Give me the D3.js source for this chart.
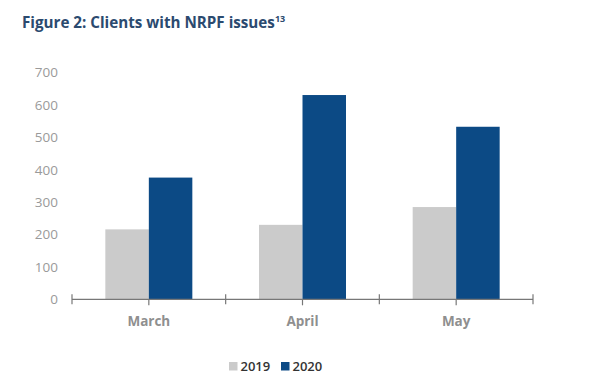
<!DOCTYPE html>
<html><head><meta charset="utf-8">
<script src="https://cdn.jsdelivr.net/npm/d3@7"></script>
<style>body{margin:0;background:#fff;}svg{display:block;font-family:"Open Sans",sans-serif;}</style>
</head><body>
<svg id="c" width="600" height="388"></svg>
<script>
const categories = ["March", "April", "May"];
const seriesNames = ["2019", "2020"];
const values2019 = [216, 230, 285];
const values2020 = [376, 631, 533];
const yTicks = [0, 100, 200, 300, 400, 500, 600, 700];
const colors = ["#cbcbcb", "#0c4a85"];

const svg = d3.select("#c");
const x0 = 72, x1 = 533, yTop = 72.7, yBase = 299.3;

const x = d3.scaleBand().domain(categories).range([x0, x1]).paddingInner(0).paddingOuter(0);
const y = d3.scaleLinear().domain([0, 700]).range([yBase, yTop]);
const bw = 43.5;
const xs = d3.scaleBand().domain(seriesNames).range([-bw, bw]).padding(0);

svg.append("text").attr("x", 22).attr("y", 28)
  .attr("fill", "#2b4a6f").attr("font-size", 15.2).attr("font-weight", 700)
  .text("Figure 2: Clients with NRPF issues")
  .append("tspan").attr("font-size", 9).attr("dy", -6).text("13");

// y labels
svg.append("g").selectAll("text").data(yTicks).join("text")
  .attr("x", 58).attr("y", d => y(d)).attr("dy", "0.35em")
  .attr("text-anchor", "end").attr("fill", "#9a9a9a").attr("font-size", 13.5)
  .text(d => d);

const data = categories.map((c, i) => ({c, vals: [values2019[i], values2020[i]]}));
const g = svg.append("g");
data.forEach(d => {
  const cx = x(d.c) + x.bandwidth() / 2;
  seriesNames.forEach((s, j) => {
    g.append("rect").attr("x", cx + xs(s)).attr("width", xs.bandwidth())
      .attr("y", y(d.vals[j])).attr("height", y(0) - y(d.vals[j]))
      .attr("fill", colors[j]);
  });
});

// x axis
const ax = svg.append("g").attr("stroke", "#777").attr("stroke-width", 1.2);
ax.append("line").attr("x1", x0).attr("x2", x1).attr("y1", yBase).attr("y2", yBase);
const bounds = categories.map(c => x(c)).concat([x1]);
ax.selectAll(".b").data(bounds).join("line").attr("class", "b")
  .attr("x1", d => d).attr("x2", d => d).attr("y1", yBase - 5).attr("y2", yBase + 5);
ax.selectAll(".m").data(categories).join("line").attr("class", "m")
  .attr("x1", d => x(d) + x.bandwidth() / 2).attr("x2", d => x(d) + x.bandwidth() / 2)
  .attr("y1", yBase).attr("y2", yBase + 6);

svg.append("g").selectAll("text").data(categories).join("text")
  .attr("x", d => x(d) + x.bandwidth() / 2).attr("y", 321).attr("dy", "0.35em")
  .attr("text-anchor", "middle").attr("fill", "#8f8f8f").attr("font-size", 13.5).attr("font-weight", 700)
  .text(d => d);

// legend
const lg = svg.append("g");
const lx = [229, 281];
seriesNames.forEach((s, j) => {
  lg.append("rect").attr("x", lx[j]).attr("y", 362).attr("width", 8.5).attr("height", 8.5).attr("fill", colors[j]);
  lg.append("text").attr("x", lx[j] + 11.5).attr("y", 366.5).attr("dy", "0.35em")
    .attr("fill", "#333").attr("font-size", 13).attr("font-weight", 600).text(s);
});
</script>
</body></html>
